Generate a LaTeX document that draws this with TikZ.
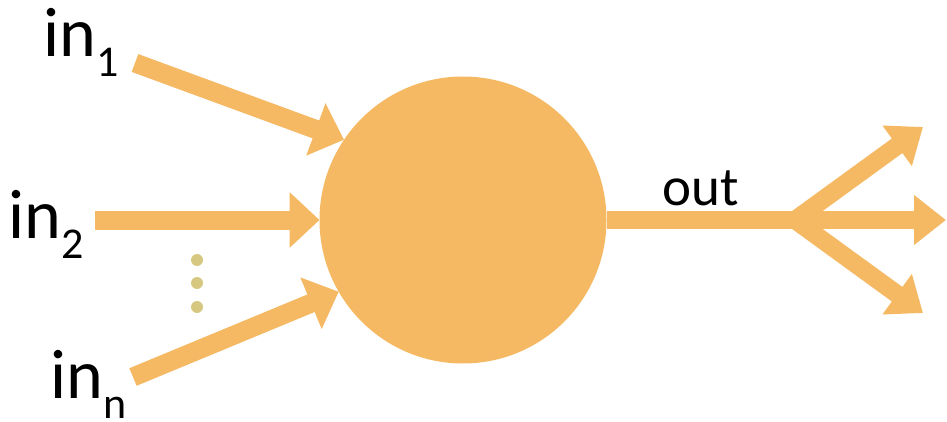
\documentclass[tikz,border=0pt]{standalone}
\usepackage{fontspec}
\setmainfont{Carlito}
\usetikzlibrary{arrows.meta,positioning}
\definecolor{cellorange}{RGB}{245,185,100}
\definecolor{dotolive}{RGB}{214,200,128}
\newcommand\insub[1]{\raisebox{-20pt}{\fontsize{44}{44}\selectfont #1}}

\tikzset{
  fatarrow/.style={draw=cellorange, line width=19pt, -{Triangle[width=54pt,length=30pt]}},
  outarrow/.style={draw=cellorange, line width=18pt, line cap=round, -{Triangle[width=48pt,length=32pt]}},
  inlabel/.style={anchor=base west, inner sep=0pt, font=\fontsize{70}{70}\selectfont},
}

\begin{document}
\begin{tikzpicture}[x=1pt,y=-1pt]
\useasboundingbox (0,0) rectangle (947,422);
% Zelle
\node[circle, fill=cellorange, minimum size=287pt, inner sep=0pt, outer sep=0pt] (cell) at (463,220) {};

% Eingaenge
\node[inlabel] (in1) at (43,57) {in\insub{1}};
\node[inlabel] (in2) at (8,238) {in\insub{2}};
\node[inlabel] (inn) at (50,398) {in\insub{n}};
\coordinate (t1) at (135,63);
\coordinate (t2) at (95,220);
\coordinate (tn) at (133,377);
\draw[fatarrow] (t1) -- (cell.146);
\draw[fatarrow] (t2) -- (cell.west);
\draw[fatarrow] (tn) -- (cell.210);
\foreach \y in {260,283,307}
  \fill[dotolive] (197,\y) circle (6pt);

% Ausgang
\coordinate (split) at (795,220);
\coordinate (o1) at (923,127);
\coordinate (o2) at (946,220);
\coordinate (o3) at (923,313);
\draw[draw=cellorange, line width=18pt] (cell.east) -- (split);
\foreach \o in {o1,o2,o3}
  \draw[outarrow] (split) -- (\o);
\node[anchor=base west, inner sep=0pt, font=\fontsize{55}{55}\selectfont] (outlbl) at (662,205) {out};
\end{tikzpicture}
\end{document}
